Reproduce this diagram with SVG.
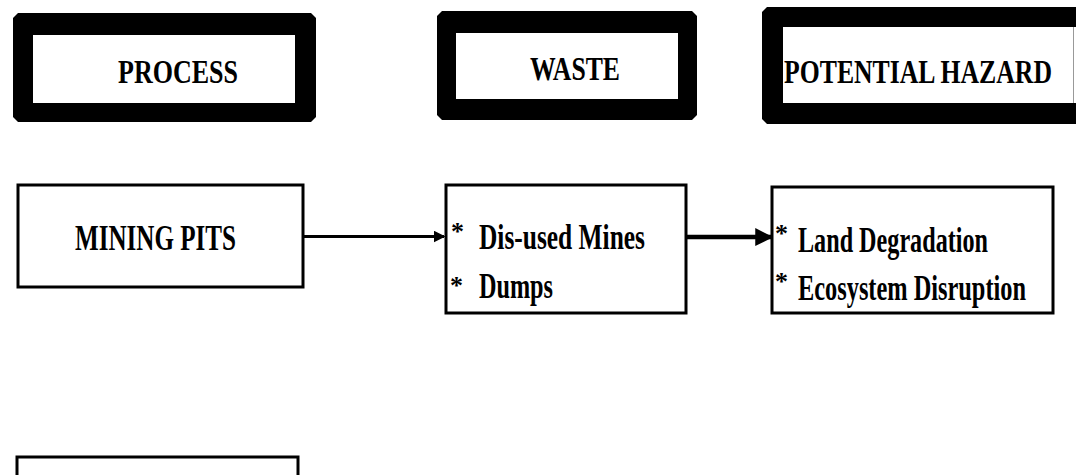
<svg xmlns="http://www.w3.org/2000/svg" width="1076" height="475" viewBox="0 0 1076 475">
<style>
.t{font-family:"Liberation Serif","Times New Roman",serif;font-weight:bold;fill:#000}
.h{font-size:33px}
.b{font-size:36px}
.s{font-size:26px}
.box{fill:#fff;stroke:#000;stroke-width:3}
.frame{fill:#000}
.inner{fill:#fff}
.conn{stroke:#000;fill:none}
</style>
<defs>
<marker id="ah" markerWidth="4" markerHeight="4" refX="3.5" refY="2" orient="auto" markerUnits="strokeWidth">
<path d="M0,0 L4,2 L0,4 Z" fill="#000"/>
</marker>
</defs>
<rect width="1076" height="475" fill="#fff"/>
<g id="hdr-process">
<path class="frame" d="M18,13 H311 L316,18 V117 L311,122 H18 L13,117 V18 Z"/>
<rect class="inner" x="33" y="35" width="262" height="68"/>
<text class="t h" x="118" y="83" textLength="120" lengthAdjust="spacingAndGlyphs">PROCESS</text>
</g>
<g id="hdr-waste">
<path class="frame" d="M442,11 H692 L697,16 V115 L692,120 H442 L437,115 V16 Z"/>
<rect class="inner" x="456" y="33" width="222" height="66"/>
<text class="t h" x="530" y="80" textLength="90" lengthAdjust="spacingAndGlyphs">WASTE</text>
</g>
<g id="hdr-hazard">
<path class="frame" d="M767,7 H1090 V124 H767 L762,119 V12 Z"/>
<rect class="inner" x="783" y="27" width="293" height="76"/>
<line x1="1073.5" y1="27" x2="1073.5" y2="103" stroke="#999" stroke-width="1"/>
<text class="t h" x="784" y="83" textLength="268" lengthAdjust="spacingAndGlyphs">POTENTIAL HAZARD</text>
</g>
<g id="mining-pits">
<rect class="box" x="18" y="185" width="285" height="102"/>
<text class="t b" x="75" y="250" textLength="161" lengthAdjust="spacingAndGlyphs">MINING PITS</text>
</g>
<g id="waste-items">
<rect class="box" x="446" y="185" width="240" height="128"/>
<text class="t s" x="451" y="240">*</text>
<text class="t b" x="479" y="249" textLength="166" lengthAdjust="spacingAndGlyphs">Dis-used Mines</text>
<text class="t s" x="450" y="294">*</text>
<text class="t b" x="479" y="298" textLength="74" lengthAdjust="spacingAndGlyphs">Dumps</text>
</g>
<g id="hazard-items">
<rect class="box" x="772" y="187" width="281" height="126"/>
<text class="t s" x="775" y="242">*</text>
<text class="t b" x="798" y="252" textLength="190" lengthAdjust="spacingAndGlyphs">Land Degradation</text>
<text class="t s" x="775" y="290">*</text>
<text class="t b" x="798" y="300" textLength="228" lengthAdjust="spacingAndGlyphs">Ecosystem Disruption</text>
</g>
<g id="bottom-box">
<rect class="box" x="17" y="457" width="281" height="40"/>
</g>
<g id="connectors">
<line class="conn" x1="303" y1="236.5" x2="444" y2="236.5" stroke-width="3" marker-end="url(#ah)"/>
<line class="conn" x1="686" y1="237" x2="771" y2="237" stroke-width="4.5" marker-end="url(#ah)"/>
</g>
</svg>
